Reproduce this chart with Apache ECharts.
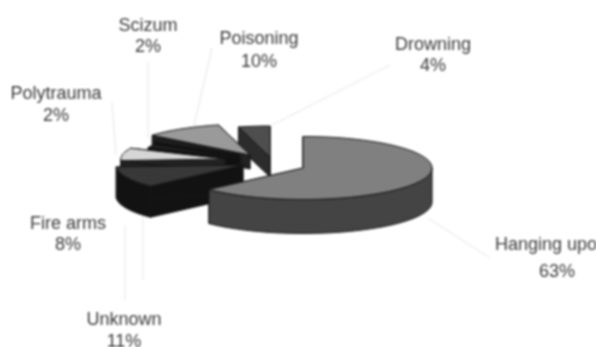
<!DOCTYPE html>
<html><head><meta charset="utf-8">
<style>html,body{margin:0;padding:0;background:#fff;overflow:hidden}#c{width:596px;height:347px;filter:blur(0.8px)}</style>
<script src="https://cdn.jsdelivr.net/npm/echarts@6/dist/echarts.min.js"></script>
</head><body><div id="c"></div>
<script>
const categories=['Hanging upon','Unknown','Fire arms','Polytrauma','Scizum','Poisoning','Drowning'];
const values=[63,11,8,2,2,10,4];
// presentation only
const apexX=[303,243,225,240,240,250,270];
const apexY=[168,165,159,158,155,155,157];
const radiusScale=[1.016,1,.82,.8,.8,1,1];
const depths=[34,31,14,14,14,14,20];
const topColors=['#808080','#383838','#d6d6d6','#222222','#222222','#9a9a9a','#4e4e4e'];
const wallColors=['#444444','#121212','#222222','#101010','#101010','#222222','#2c2c2c'];
const drawOrder=[6,5,4,3,2,1,0];
const labelX=[495,124,68,56,148,259,433];
const labelY=[245,320,224,94,26,39,45];
const gapY=[27,22,21,22,21,23,21];
const leaders=[[428,218,490,258],[125,225,125,300],[143,200,143,280],[112,102,116,155],[148,62,148,138],[212,48,193,130],[390,65,272,125]];
const RX=127,RY=31,FONT=18;
const total=values.reduce((a,b)=>a+b,0);
const starts=[];values.reduce((s,v,i)=>{starts[i]=s;return s+v;},0);
function pt(i,t,drop){const a=t/total*2*Math.PI,k=radiusScale[i];
  return [apexX[i]+Math.sin(a)*RX*k,apexY[i]-Math.cos(a)*RY*k+(drop||0)];}
function arc(i,a,b,drop){const n=Math.max(2,Math.ceil((b-a)*2)),p=[];
  for(let j=0;j<=n;j++)p.push(pt(i,a+(b-a)*j/n,drop));return p;}
function poly(points,fill){return {type:'polygon',shape:{points},style:{fill,stroke:'#161616',lineWidth:1}};}
function renderItem(params,api){
  const i=params.dataIndex,v=api.value(0),s=starts[i],e=s+v,ax=apexX[i],ay=apexY[i],d=depths[i],kids=[];
  const cs=pt(i,s),ce=pt(i,e);
  kids.push(poly([[ax,ay],cs,[cs[0],cs[1]+d],[ax,ay+d]],wallColors[i]));
  kids.push(poly([[ax,ay],ce,[ce[0],ce[1]+d],[ax,ay+d]],wallColors[i]));
  const fs=Math.max(s,25),fe=Math.min(e,75);
  if(fe>fs){const top=arc(i,fs,fe,0),bot=arc(i,fs,fe,d).reverse();kids.push(poly(top.concat(bot),wallColors[i]));}
  kids.push(poly([[ax,ay]].concat(arc(i,s,e,0)),topColors[i]));
  return {type:'group',children:kids};
}
function renderLabel(params,api){
  const i=params.dataIndex,left=i===0;
  const kids=[{type:'line',shape:{x1:leaders[i][0],y1:leaders[i][1],x2:leaders[i][2],y2:leaders[i][3]},style:{stroke:'#e6e6e6',lineWidth:1}},
   {type:'text',style:{x:labelX[i],y:labelY[i],text:categories[i],fill:'#3a3a3a',font:FONT+'px "Liberation Sans"',align:left?'left':'center',verticalAlign:'middle'}},
   {type:'text',style:{x:left?557:labelX[i],y:labelY[i]+gapY[i],text:api.value(0)+'%',fill:'#3a3a3a',font:FONT+'px "Liberation Sans"',align:'center',verticalAlign:'middle'}}];
  return {type:'group',children:kids};
}
const chart=echarts.init(document.getElementById('c'));
chart.setOption({animation:false,backgroundColor:'#fff',
 series:[
  {type:'custom',coordinateSystem:'none',silent:true,z:1,renderItem:renderLabel,data:values.map(v=>[v])},
  ...drawOrder.map((idx,o)=>({type:'custom',coordinateSystem:'none',silent:true,z:2+o,
    renderItem:(p,api)=>renderItem({dataIndex:idx},api),data:[[values[idx]]]}))
 ]});
</script></body></html>
